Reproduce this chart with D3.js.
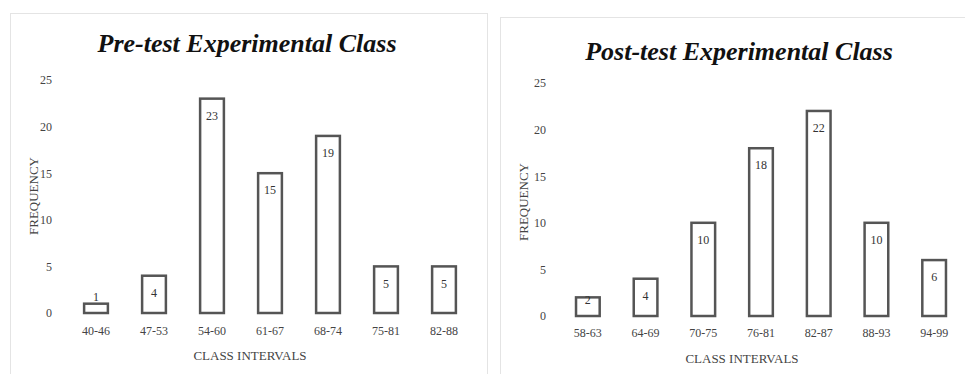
<!DOCTYPE html>
<html>
<head>
<meta charset="utf-8">
<script src="https://cdn.jsdelivr.net/npm/d3@7"></script>
<style>
  html, body { margin: 0; padding: 0; background: #fff; }
  svg text { font-family: "Liberation Serif", "Times New Roman", serif; }
</style>
</head>
<body>
<svg id="chart" width="965" height="374"></svg>
<script>
// ---- data ----
const preCategories = ["40-46", "47-53", "54-60", "61-67", "68-74", "75-81", "82-88"];
const preValues = [1, 4, 23, 15, 19, 5, 5];
const postCategories = ["58-63", "64-69", "70-75", "76-81", "82-87", "88-93", "94-99"];
const postValues = [2, 4, 10, 18, 22, 10, 6];
const yTicks = [0, 5, 10, 15, 20, 25];
const preTitle = "Pre-test Experimental Class";
const postTitle = "Post-test Experimental Class";
const xTitle = "CLASS INTERVALS";
const yTitle = "FREQUENCY";

const svg = d3.select("#chart");

// panel frames
svg.append("rect").attr("x", 10.5).attr("y", 13.5).attr("width", 477).attr("height", 380)
  .attr("fill", "#fff").attr("stroke", "#e4e4e4").attr("stroke-width", 1);
svg.append("rect").attr("x", 500.5).attr("y", 17.5).attr("width", 480).attr("height", 380)
  .attr("fill", "#fff").attr("stroke", "#e4e4e4").attr("stroke-width", 1);

function drawChart(cfg) {
  const g = svg.append("g");
  const x = d3.scaleBand().domain(cfg.categories).range(cfg.xRange)
    .paddingInner(0.59).paddingOuter(0.295);
  const y = d3.scaleLinear().domain([0, 25]).range(cfg.yRange);

  // y axis (labels only)
  const yAxis = g.append("g").attr("transform", `translate(${cfg.yLabelX},0)`)
    .call(d3.axisLeft(y).tickValues(yTicks).tickSize(0).tickPadding(0));
  yAxis.select(".domain").remove();
  yAxis.selectAll("text").attr("font-size", 12).attr("fill", "#444")
    .style("font-family", "Liberation Serif, serif");

  // x axis (labels only)
  const xAxis = g.append("g").attr("transform", `translate(0,${cfg.xLabelY})`)
    .call(d3.axisBottom(x).tickSize(0).tickPadding(0));
  xAxis.select(".domain").remove();
  xAxis.selectAll("text").attr("font-size", 12).attr("fill", "#444")
    .style("font-family", "Liberation Serif, serif");

  // bars
  const data = cfg.categories.map((c, i) => ({ c, v: cfg.values[i] }));
  g.selectAll("rect.bar").data(data).enter().append("rect")
    .attr("class", "bar")
    .attr("x", d => x(d.c))
    .attr("y", d => y(d.v))
    .attr("width", x.bandwidth())
    .attr("height", d => y(0) - y(d.v))
    .attr("fill", "#fff")
    .attr("stroke", "#555")
    .attr("stroke-width", 2.5);

  // value labels
  g.selectAll("text.val").data(data).enter().append("text")
    .attr("class", "val")
    .attr("x", d => x(d.c) + x.bandwidth() / 2)
    .attr("y", d => Math.min(y(d.v) + 17, y(0) - 16))
    .attr("dy", "0.35em")
    .attr("text-anchor", "middle")
    .attr("font-size", 12)
    .attr("fill", "#333")
    .text(d => d.v);

  // title
  g.append("text")
    .attr("x", cfg.titleX).attr("y", cfg.titleY)
    .attr("text-anchor", "middle")
    .attr("font-size", 26).attr("font-weight", "bold").attr("font-style", "italic")
    .attr("fill", "#111")
    .text(cfg.title);

  // axis titles
  g.append("text")
    .attr("x", cfg.xTitleX).attr("y", cfg.xTitleY)
    .attr("text-anchor", "middle").attr("dy", "0.35em")
    .attr("font-size", 13).attr("fill", "#444")
    .text(xTitle);
  g.append("text")
    .attr("transform", `translate(${cfg.yTitleX},${cfg.yTitleY}) rotate(-90)`)
    .attr("text-anchor", "middle").attr("dy", "0.35em")
    .attr("font-size", 13).attr("fill", "#444")
    .text(yTitle);
}

drawChart({
  categories: preCategories, values: preValues, title: preTitle,
  xRange: [67, 473], yRange: [313, 80],
  yLabelX: 52, xLabelY: 326,
  titleX: 247, titleY: 52,
  xTitleX: 250, xTitleY: 355,
  yTitleX: 33, yTitleY: 196
});
drawChart({
  categories: postCategories, values: postValues, title: postTitle,
  xRange: [559, 963], yRange: [316, 83],
  yLabelX: 546, xLabelY: 328,
  titleX: 739, titleY: 60,
  xTitleX: 742, xTitleY: 358,
  yTitleX: 523, yTitleY: 202
});
</script>
</body>
</html>
